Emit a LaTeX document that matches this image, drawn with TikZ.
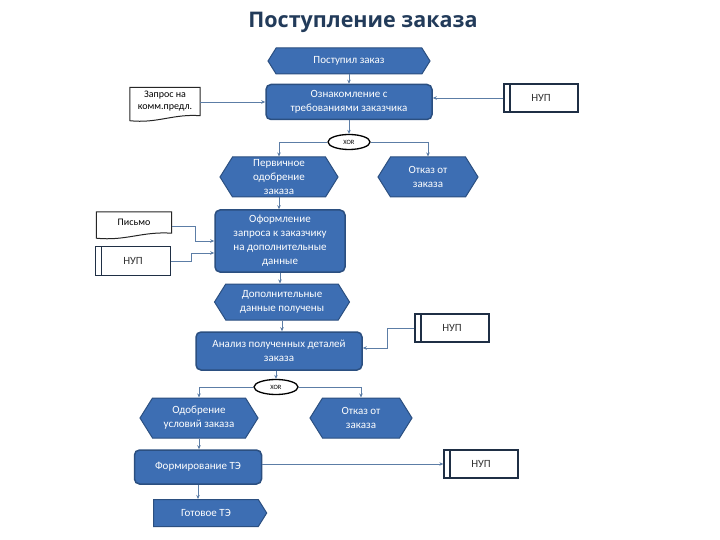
\documentclass[tikz,border=0pt]{standalone}
\usepackage{fontspec}
\setmainfont{Carlito}
\newfontfamily\titlefont{Open Sans}
\usetikzlibrary{shapes.symbols,shapes.geometric,arrows.meta,calc}
\definecolor{evfill}{HTML}{3D6EB3}
\definecolor{evborder}{HTML}{2B4F80}
\definecolor{navy}{HTML}{1F2F45}
\definecolor{linecol}{HTML}{5C7DA6}
\definecolor{titlecol}{HTML}{223B5A}
\tikzset{
  txt/.style={font=\fontsize{11}{14}\selectfont, align=center},
  event/.style={txt, shape=signal, signal to=west and east, signal pointer angle=116,
    fill=evfill, draw=evborder, line width=1pt, text=white, inner sep=1pt},
  endevent/.style={event, signal to=east, signal from=nowhere},
  func/.style={txt, rectangle, rounded corners=5pt, fill=evfill, draw=evborder,
    line width=1.5pt, text=white, inner sep=1pt},
  nupbox/.style={txt, rectangle, draw=navy, line width=1.3pt, fill=white, text=black!80,
    minimum width=74pt, minimum height=28pt,
    path picture={\draw[navy, line width=1.3pt]
      ([xshift=6pt]path picture bounding box.north west) --
      ([xshift=6pt]path picture bounding box.south west);}},
  docnode/.style={font=\fontsize{10}{11.5}\selectfont, align=center, inner sep=0pt, text=black},
  docline/.style={draw=black!85, line width=1pt, fill=white},
  xorbox/.style={ellipse, draw=black, line width=1.3pt, fill=white,
    font=\fontsize{6.5}{6.5}\selectfont, inner sep=0pt, minimum width=42pt, minimum height=15pt},
  conn/.style={draw=linecol, line width=0.9pt, -{Stealth[length=4pt,width=3.5pt]}},
}
\newcommand{\docpath}[1]{%
  \draw[docline] (#1.north west) -- (#1.north east) -- ($(#1.south east)+(0,-5)$)
    .. controls ($(#1.south)+(8,-7)$) and ($(#1.south)+(-8,3)$) .. (#1.south west) -- cycle;}
\begin{document}
\begin{tikzpicture}[x=1pt,y=-1pt]
\useasboundingbox (0,0) rectangle (720,540);
\fill[white] (0,0) rectangle (720,540);

\node[font=\titlefont\bfseries\fontsize{21.5}{24}\selectfont, text=titlecol] (title) at (363,22) {Поступление заказа};

% event nodes
\node[event, minimum width=162pt, minimum height=26pt] (e1) at (349,61) {Поступил заказ};
\node[func, minimum width=166pt, minimum height=35pt] (f1) at (349,102) {Ознакомление с\\требованиями заказчика};
\node[docnode, minimum width=70pt, minimum height=33pt] (d1) at (165,104) {};
\docpath{d1}
\node[docnode] at (165,101) {Запрос на\\комм.предл.};
\node[nupbox] (n1) at (541,98) {НУП};
\node[xorbox] (x1) at (349,142) {XOR};

\node[event, minimum width=118pt, minimum height=40pt] (e2) at (279,177) {Первичное\\одобрение\\заказа};
\node[event, minimum width=100pt, minimum height=40pt] (e3) at (428,177) {Отказ от\\заказа};

\node[docnode, minimum width=75pt, minimum height=26pt] (d2) at (134,225) {};
\docpath{d2}
\node[docnode] at (134,222) {Письмо};
\node[nupbox, minimum width=75pt, minimum height=29pt] (n2) at (133,261) {НУП};
\node[func, minimum width=130pt, minimum height=62pt] (f2) at (280,241) {Оформление\\запроса к заказчику\\на дополнительные\\данные};

\node[event, minimum width=135pt, minimum height=36pt] (e4) at (282,302) {Дополнительные\\данные получены};
\node[nupbox] (n3) at (452,328) {НУП};
\node[func, minimum width=166pt, minimum height=38pt] (f3) at (279,351) {Анализ полученных деталей\\заказа};
\node[xorbox, minimum width=44pt] (x2) at (276,387) {XOR};

\node[event, minimum width=118pt, minimum height=40pt] (e5) at (199,418) {Одобрение\\условий заказа};
\node[event, minimum width=102pt, minimum height=40pt] (e6) at (361,418) {Отказ от\\заказа};
\node[func, minimum width=127pt, minimum height=34pt] (f4) at (198,467) {Формирование ТЭ};
\node[nupbox] (n4) at (481,464) {НУП};
\node[endevent, minimum width=113pt, minimum height=27pt] (e7) at (206,513) {Готовое ТЭ};

% connectors
\draw[conn] (e1.south) -- (f1.north);
\draw[conn] (d1.east |- f1.west) -- (f1.west);
\draw[conn] (n1.west) -- (n1.west -| f1.east);
\draw[conn] (f1.south) -- (x1.north);
\draw[conn] (x1.west) -| (e2.north);
\draw[conn] (x1.east) -| (e3.north);
\draw[conn] (e2.south) -- (e2.south |- f2.north);
\draw[conn] ($(d2.east)+(0,1)$) -- ++(24,0) |- (f2.west);
\draw[conn] (n2.east) -- ++(20,0) |- ($(f2.west)+(0,12)$);
\draw[conn] (f2.south) -- (f2.south |- e4.north);
\draw[conn] (e4.south) -- (e4.south |- f3.north);
\draw[conn] (n3.west) -- ++(-27,0) |- ($(f3.east)+(0,-3)$);
\draw[conn] (x2.north |- f3.south) -- (x2.north);
\draw[conn] (x2.west) -| (e5.north);
\draw[conn] (x2.east) -| (e6.north);
\draw[conn] (e5.south) -- (e5.south |- f4.north);
\draw[conn] (f4.east |- n4.west) -- (n4.west);
\draw[conn] (f4.south) -- (f4.south |- e7.north);
\end{tikzpicture}
\end{document}
